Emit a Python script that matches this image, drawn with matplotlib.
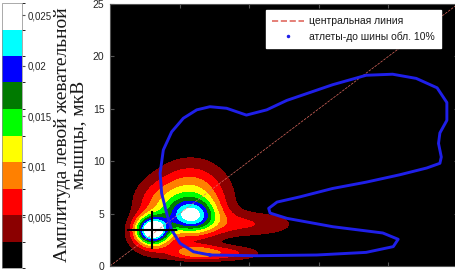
import numpy as np
import matplotlib
matplotlib.use('Agg')
from matplotlib import pyplot as plt
from matplotlib.colors import ListedColormap, BoundaryNorm
from matplotlib.cm import ScalarMappable
from matplotlib.ticker import FuncFormatter

# density blobs (centre x, centre y, sigma x, sigma y, height)
blob_x = [3.04, 5.82, 5.8, 3.0, 10.0, 5.9, 8.0, 3.2]
blob_y = [3.43, 4.77, 6.3, 2.5, 4.0, 1.35, 1.2, 6.0]
blob_sx = [0.8, 1.15, 1.8, 1.3, 2.5, 1.2, 2.0, 1.2]
blob_sy = [0.9, 1.04, 2.3, 1.3, 0.85, 0.5, 0.5, 1.5]
blob_h = [0.025, 0.015, 0.012, 0.0035, 0.005, 0.0055, 0.006, 0.004]

# 10% contour of the athletes
contour_x = [7.18, 10.5, 14.85, 18.4, 20.35, 20.7, 19.6, 16.0, 12.7, 11.5, 11.4, 12.0,
             13.65, 16.0, 18.4, 20.8, 22.75, 23.7, 23.8, 23.6, 23.7, 24.2, 24.2, 23.5,
             22.0, 20.3, 18.4, 16.0, 12.7, 11.26, 9.8, 8.38, 7.18, 6.23, 5.27, 4.43,
             3.83, 3.6, 3.71, 4.07, 4.43, 5.03, 6.0, 7.18]
contour_y = [1.05, 0.98, 1.05, 1.3, 1.85, 2.55, 3.15, 3.75, 4.55, 5.05, 5.5, 6.1,
             6.6, 7.4, 8.0, 8.7, 9.35, 9.8, 10.4, 11.7, 12.7, 13.9, 15.6, 17.0,
             17.9, 18.3, 18.2, 17.3, 15.8, 14.9, 14.4, 15.05, 15.2, 14.9, 14.1, 12.8,
             11.07, 8.85, 6.94, 5.03, 3.43, 2.17, 1.36, 1.05]

# crosshair (centre and extent)
cross_x = [1.31, 4.74]
cross_y = [1.69, 5.18]
cross_c = (3.04, 3.43)

levels = np.linspace(0, 0.0262, 11)
colors = ['#000000', '#8b0000', '#ff0000', '#ff8000', '#ffff00',
          '#00ff00', '#007a00', '#0000ff', '#00ffff', '#ffffff']

plt.rcParams['font.family'] = ['Liberation Sans', 'DejaVu Sans']

gx, gy = np.meshgrid(np.linspace(0, 25, 400), np.linspace(0, 25, 400))
Z = np.zeros_like(gx)
for cx, cy, sx, sy, h in zip(blob_x, blob_y, blob_sx, blob_sy, blob_h):
    Z += h * np.exp(-(gx - cx)**2 / (2 * sx**2) - (gy - cy)**2 / (2 * sy**2))

fig = plt.figure(figsize=(4.56, 2.74), dpi=100)
ax = fig.add_axes([110/456, 8/274, 348/456, 262/274])
ax.set_facecolor('black')

cs = ax.contourf(gx, gy, Z, levels=levels, colors=colors, extend='max')
cs.cmap.set_over('white')

ax.plot([0, 25], [0, 25], '--', color='#e06a60', lw=0.5, label='центральная линия')
ax.plot(contour_x, contour_y, color='#1f1fe8', lw=2.1)
ax.plot([], [], '.', color='#1f1fe8', ms=3, label='атлеты-до шины обл. 10%')
ax.plot(cross_x, [cross_c[1]] * 2, color='black', lw=1.5)
ax.plot([cross_c[0]] * 2, cross_y, color='black', lw=1.5)

ax.set_xlim(0, 25)
ax.set_ylim(0, 25)
ax.set_xticks([5, 10, 15, 20])
ax.set_xticklabels([])
ax.set_yticks([0, 5, 10, 15, 20, 25])
ax.tick_params(direction='in', top=True, right=True, length=3, color='#555555',
               labelsize=7.5, labelcolor='#262626', pad=4)
for s in ax.spines.values():
    s.set_color('#555555')

leg = ax.legend(loc='upper right', bbox_to_anchor=(0.951, 0.977), borderaxespad=0,
                fontsize=7.5, fancybox=False, framealpha=1, edgecolor='white',
                handlelength=3.0, handletextpad=0.5, borderpad=0.6, labelspacing=0.5)
leg.get_lines()[0].set_linewidth(1.2)
for t in leg.get_texts():
    t.set_color('#1a1a1a')

fig.text(71/456, 139/274, 'Амплитуда левой жевательной\nмышцы, мкВ', rotation=90,
         ha='center', va='center', multialignment='center', fontsize=14,
         family='Liberation Serif', color='#1a1a1a', linespacing=1.0)

cax = fig.add_axes([2/456, 6/274, 20/456, 265/274])
sm = ScalarMappable(norm=BoundaryNorm(levels, 10), cmap=ListedColormap(colors))
cb = fig.colorbar(sm, cax=cax, ticks=[0.005, 0.01, 0.015, 0.02, 0.025])
cb.ax.yaxis.set_major_formatter(FuncFormatter(lambda v, p: ('%g' % v).replace('.', ',')))
cb.ax.tick_params(labelsize=7, labelcolor='#262626', length=2, color='#555555', pad=2)
cb.outline.set_edgecolor('#888888')
cb.outline.set_linewidth(0.5)

plt.savefig('out.png', dpi=100)
